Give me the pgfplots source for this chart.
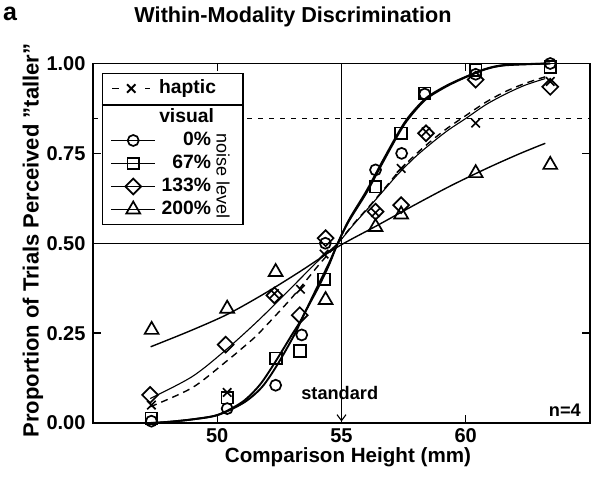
\documentclass[border=0pt]{standalone}
\usepackage{fontspec}
\setmainfont{Liberation Sans}
\usepackage{graphicx}
\usepackage{pgfplots}
\pgfplotsset{compat=1.18}
\usetikzlibrary{arrows.meta}

\pgfplotsset{
  visleg/.style={legend image code/.code={%
    \draw[mark repeat=2,mark phase=2,##1] plot coordinates {(0pt,0pt) (22pt,0pt) (44pt,0pt)};}},
  hapleg/.style={legend image code/.code={%
    \draw[mark repeat=2,mark phase=2,##1] plot coordinates {(1pt,0pt) (20pt,0pt) (39pt,0pt)};}},
}

\begin{document}
\begin{tikzpicture}
\path[use as bounding box] (-93pt,-63pt) rectangle (499pt,423pt);
\begin{axis}[
  at={(0pt,0pt)}, anchor=south west,
  width=497pt, height=359.5pt, scale only axis,
  xmin=45, xmax=65, ymin=0, ymax=1,
  xtick={50,55,60}, ytick={0,0.25,0.5,0.75,1},
  tick align=inside, major tick length=8pt,
  axis line style={line width=1.3pt},
  tick style={black, line width=1.3pt},
  /pgf/number format/assume math mode=true,
  yticklabel style={/pgf/number format/.cd, fixed, fixed zerofill, precision=2, /tikz/.cd,
    font=\bfseries\fontsize{20}{24}\selectfont, xshift=-4pt},
  xticklabel style={font=\bfseries\fontsize{20}{24}\selectfont, yshift=-2pt},
  clip=false,
  legend cell align=right,
  legend style={name=leg, at={(0.0175,0.974)}, anchor=north west, draw=black, line width=1.3pt,
    fill=white, font=\bfseries\fontsize{19.3}{23}\selectfont,
    inner xsep=8pt, inner ysep=4pt, row sep=1pt, column sep=1pt,
    nodes={inner sep=2pt, text height=14pt, text depth=4pt}},
]
% reference lines
\addplot[black, line width=1.2pt, forget plot] coordinates {(55,0) (55,1)};
\addplot[black, line width=1.2pt, forget plot] coordinates {(45,0.5) (65,0.5)};
\addplot[black, line width=1.2pt, dash pattern=on 5pt off 6pt, forget plot] coordinates {(45,0.848) (65,0.848)};

% fitted curves
\addplot[black, line width=1.9pt, smooth, forget plot] coordinates {
(47.3,0.0) (48.0,0.003) (49.0,0.010) (50.0,0.022) (51.0,0.058) (51.7,0.105) (52.3,0.166)
(53.0,0.245) (53.4,0.29) (54.0,0.375) (54.5,0.445) (54.85,0.50) (55.3,0.565) (56.0,0.645)
(56.64,0.727) (57.31,0.81) (57.71,0.852) (58.39,0.903) (59.19,0.937) (60.0,0.963)
(60.8,0.985) (61.6,0.996) (63.4,1.0)};
\addplot[black, line width=1.9pt, smooth, forget plot] coordinates {
(47.4,0.0) (48.2,0.004) (49.2,0.012) (50.1,0.024) (51.1,0.058) (51.8,0.10) (52.4,0.16)
(53.1,0.245) (53.55,0.31) (54.05,0.375) (54.5,0.44) (54.85,0.50) (55.3,0.562) (56.0,0.64)
(56.64,0.722) (57.31,0.806) (57.71,0.848) (58.39,0.9) (59.19,0.935) (60.0,0.962)
(60.8,0.984) (61.6,0.995) (63.4,1.0)};
\addplot[black, line width=1.1pt, smooth, forget plot] coordinates {
(47.3,0.068) (48.99,0.129) (50.34,0.203) (51.68,0.287) (53.02,0.379) (54.09,0.453)
(54.85,0.50) (55.5,0.553) (56.17,0.605) (56.8,0.655) (57.31,0.695) (58.0,0.742)
(58.65,0.78) (59.3,0.815) (60.0,0.847) (60.8,0.885) (61.6,0.915) (62.4,0.94) (63.2,0.958)};
\addplot[black, line width=1.4pt, dash pattern=on 7pt off 5pt, smooth, forget plot] coordinates {
(47.3,0.045) (48.99,0.098) (50.34,0.17) (51.07,0.212) (51.68,0.25) (53.02,0.35) (54.09,0.44)
(54.85,0.50) (55.5,0.555) (56.17,0.607) (56.8,0.658) (57.31,0.70) (58.0,0.748)
(58.65,0.787) (59.3,0.822) (60.0,0.855) (60.8,0.892) (61.6,0.922) (62.4,0.945) (63.2,0.963)};
\addplot[black, line width=1.4pt, smooth, forget plot] coordinates {
(47.32,0.212) (48.9,0.256) (50.4,0.302) (51.9,0.36) (53.3,0.42) (54.85,0.49) (56.4,0.548)
(57.9,0.605) (59.4,0.66) (60.9,0.71) (62.2,0.75) (63.2,0.778)};

% data points
\addplot[only marks, mark=o, mark size=5.5pt, mark options={black, line width=1.7pt}, forget plot] coordinates {
(47.35,0.005) (50.4,0.04) (52.35,0.105) (53.4,0.245) (54.35,0.50) (56.37,0.704)
(57.42,0.75) (58.35,0.915) (60.4,0.97) (63.4,1.0)};
\addplot[only marks, mark=square, mark size=5.8pt, mark options={black, line width=1.7pt}, forget plot] coordinates {
(47.35,0.013) (50.4,0.07) (52.37,0.18) (53.33,0.20) (54.3,0.40) (56.37,0.657)
(57.4,0.806) (58.35,0.917) (60.4,0.982) (63.4,0.99)};
\addplot[only marks, mark=square, mark size=5.6pt, mark options={black, line width=1.7pt, rotate=45}, forget plot] coordinates {
(47.3,0.078) (50.34,0.218) (52.3,0.355) (53.32,0.30) (54.36,0.514) (56.37,0.588)
(57.4,0.606) (58.4,0.806) (60.4,0.955) (63.4,0.935)};
\addplot[only marks, mark=triangle, mark size=8pt, mark options={black, line width=1.7pt}, forget plot] coordinates {
(47.36,0.259) (50.4,0.318) (52.35,0.42) (54.36,0.342) (56.37,0.545) (57.4,0.58)
(60.4,0.695) (63.4,0.718)};
\addplot[only marks, mark=x, mark size=6pt, mark options={black, line width=1.6pt}, forget plot] coordinates {
(47.35,0.05) (50.4,0.085) (52.3,0.36) (53.35,0.372) (54.3,0.47) (56.37,0.585)
(57.4,0.708) (58.4,0.81) (60.4,0.834) (63.4,0.95)};

% legend
\addlegendimage{hapleg, black, line width=1.8pt, dash pattern=on 7pt off 26pt, mark=x, mark size=6pt, mark options={solid, line width=1.8pt}}
\addlegendentry{haptic\kern17pt}
\addlegendimage{empty legend}
\addlegendentry[text height=20pt]{visual\kern19pt}
\addlegendimage{visleg, black, line width=1.8pt, mark=o, mark size=5.5pt, mark options={fill=white, line width=1.7pt}}
\addlegendentry{0\%\kern22pt}
\addlegendimage{visleg, black, line width=1.8pt, mark=square, mark size=5.8pt, mark options={fill=white, line width=1.7pt}}
\addlegendentry{67\%\kern22pt}
\addlegendimage{visleg, black, line width=1.8pt, mark=square, mark size=5.6pt, mark options={fill=white, line width=1.7pt, rotate=45}}
\addlegendentry{133\%\kern22pt}
\addlegendimage{visleg, black, line width=1.8pt, mark=triangle, mark size=8pt, mark options={fill=white, line width=1.7pt}}
\addlegendentry{200\%\kern22pt}

% annotations
\node[font=\bfseries\fontsize{18.2}{22}\selectfont] at (axis cs:54.93,0.083) {standard};
\draw[line width=1.1pt, -{Straight Barb[length=6pt,width=9pt]}] (axis cs:55,0.058) -- (axis cs:55,0.004);
\node[font=\bfseries\fontsize{18.2}{22}\selectfont] at (axis cs:63.99,0.036) {n=4};
\end{axis}

\draw[line width=1.3pt] ([yshift=-32.3pt]leg.north west) -- ([yshift=-32.3pt]leg.north east);
\node[rotate=-90, font=\fontsize{18}{22}\selectfont] at ([xshift=-20.7pt, yshift=49pt]leg.south east) {noise level};

\node[anchor=base, inner sep=0pt, font=\bfseries\fontsize{21.6}{26}\selectfont] at (200pt,400pt) {\resizebox{317pt}{!}{Within-Modality Discrimination}};
\node[anchor=base west, inner sep=0pt, font=\bfseries\fontsize{25}{28}\selectfont] at (-90pt,402pt) {a};
\node[rotate=90, font=\bfseries\fontsize{22}{26}\selectfont] at (-60pt,182.5pt) {Proportion of Trials Perceived "taller"};
\node[font=\bfseries\fontsize{20.6}{24}\selectfont] at (255pt,-34pt) {Comparison Height (mm)};
\end{tikzpicture}
\end{document}
